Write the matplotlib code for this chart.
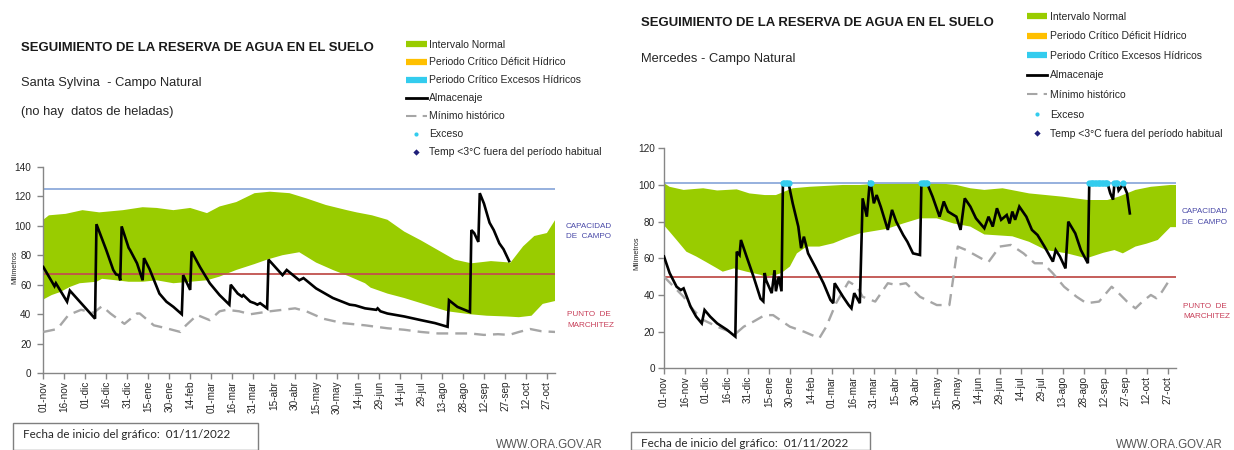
import matplotlib
matplotlib.use('Agg')
import matplotlib.pyplot as plt
from matplotlib import font_manager
from matplotlib.lines import Line2D

# ---------------- data ----------------
tick_days = list(range(0, 361, 15))
tick_labels = ['01-nov', '16-nov', '01-dic', '16-dic', '31-dic', '15-ene', '30-ene', '14-feb',
               '01-mar', '16-mar', '31-mar', '15-abr', '30-abr', '15-may', '30-may', '14-jun',
               '29-jun', '14-jul', '29-jul', '13-ago', '28-ago', '12-sep', '27-sep', '12-oct', '27-oct']

# Santa Sylvina
ss_cc = 125
ss_pmp = 67
ss_up_days = [0, 4, 16, 28, 40, 57, 71, 81, 93, 105, 117, 126, 138, 151, 162, 176, 188, 202, 217,
              224, 235, 246, 258, 270, 282, 294, 306, 320, 334, 343, 351, 360, 366]
ss_up_vals = [104, 107, 108, 110.5, 109, 110.5, 112.5, 112, 110.5, 112, 108.5, 113, 116, 122, 123,
              122, 118.5, 114, 110.5, 109, 107, 104, 96, 90, 83.5, 77, 74.5, 76, 75, 86, 93, 95, 104]
ss_lo_days = [0, 6, 12, 19, 26, 38, 42, 52, 61, 71, 81, 93, 105, 117, 126, 138, 151, 160, 171, 183,
              195, 207, 219, 230, 234, 246, 258, 270, 282, 289, 305, 317, 331, 340, 349, 357, 366]
ss_lo_vals = [50, 53, 55, 58.5, 61, 62, 64, 63, 62, 62, 63, 61, 62, 63, 65.5, 70, 74, 77, 80, 82,
              75, 70, 65.5, 61, 58, 54, 51, 47.5, 44, 42, 40, 39, 38.5, 38, 39, 47, 49]
ss_st_days = [0, 8, 9, 17, 19, 37, 38, 45, 50, 52, 54, 55, 56, 61, 62, 67, 71, 72, 76, 83, 88, 93,
              99, 100, 105, 106, 112, 119, 126, 133, 134, 139, 142, 143, 148, 151, 153, 155, 160,
              161, 171, 174, 183, 186, 195, 207, 219, 223, 230, 238, 239, 241, 246, 258, 270, 280,
              289, 290, 296, 305, 306, 308, 311, 312, 315, 319, 322, 326, 329, 333]
ss_st_vals = [72, 59, 61, 48.5, 56, 37, 101, 83.5, 70, 67, 66.5, 63, 99.5, 85, 83.5, 74.5, 63, 78,
              70.5, 54, 48.5, 45, 40, 66.5, 56.5, 82.5, 72, 61, 53, 46.5, 60, 54, 52, 53, 48.5,
              47.5, 46.5, 47.5, 44, 77, 66.5, 70, 63, 64.5, 57.5, 51, 46.5, 46, 44, 43, 44, 42,
              40.5, 38.5, 36, 34, 31.5, 49.5, 45, 41.5, 97, 95, 89, 122, 115, 102, 97, 88, 84, 76]
ss_min_days = [0, 10, 18, 27, 36, 42, 48, 58, 67, 69, 79, 88, 98, 102, 110, 119, 126, 131, 140,
               148, 162, 171, 180, 188, 200, 214, 230, 246, 258, 270, 282, 294, 305, 315, 325,
               333, 340, 348, 356, 366]
ss_min_vals = [28, 30, 39.5, 43, 41, 45.5, 40.5, 33.5, 40.5, 40.5, 32.5, 30.5, 28, 32.5, 39.5, 36,
               42, 43, 42, 40, 42, 43, 44, 42, 37, 34, 32.5, 30.5, 29.5, 28, 27, 27, 27, 26, 26.5,
               26, 28, 30, 28.5, 28]
ss_exc_days = []

# Mercedes
me_cc = 101
me_pmp = 50
me_up_days = [0, 4, 14, 28, 38, 52, 61, 72, 80, 92, 104, 116, 128, 140, 151, 171, 195, 209, 219,
              229, 242, 261, 285, 303, 317, 325, 337, 348, 362, 366]
me_up_vals = [101, 99, 97.3, 98.2, 97, 97.6, 95.4, 94.5, 94.5, 98.2, 99, 99.5, 100, 100, 100.6, 101,
              101, 100, 98.2, 97.3, 98.2, 95.4, 93.6, 91.8, 91.8, 93.6, 97.3, 99, 100, 100]
me_lo_days = [0, 4, 9, 16, 23, 30, 38, 42, 50, 59, 69, 72, 80, 84, 90, 95, 102, 111, 121, 130, 140,
              151, 159, 171, 183, 195, 207, 219, 229, 249, 261, 273, 288, 302, 314, 322, 328, 337,
              345, 353, 362, 366]
me_lo_vals = [78, 74.5, 70, 63.6, 61, 58, 54.5, 52.7, 54.5, 52.7, 51, 50, 51, 52, 55.5, 62.7, 66.4,
              66.4, 68.2, 71, 73.6, 75, 76, 79, 81.8, 81.8, 79, 77.3, 73, 72, 69, 64.5, 62.7, 60, 63,
              64.5, 62.7, 66.4, 68, 70, 77, 77]
me_st_days = [0, 4, 9, 12, 14, 19, 23, 27, 29, 33, 38, 45, 51, 52, 54, 55, 59, 64, 69, 71, 72, 73,
              77, 79, 80, 82, 84, 85, 89, 92, 96, 98, 100, 103, 108, 114, 119, 121, 122, 128, 132,
              134, 136, 140, 142, 145, 147, 148, 150, 152, 155, 160, 163, 166, 171, 174, 178, 183,
              184, 188, 192, 197, 200, 203, 209, 212, 215, 219, 223, 229, 232, 235, 238, 241, 245,
              247, 249, 251, 254, 259, 263, 267, 272, 278, 280, 283, 287, 289, 294, 298, 303, 304,
              317, 319, 321, 322, 324, 325, 327, 328, 331, 333]
me_st_vals = [61, 52, 44.5, 42.7, 43.6, 33.6, 28.2, 24.5, 31.8, 28.2, 24.5, 21, 17.3, 63.6, 61.8,
              70, 61, 50, 38, 36.5, 52, 48, 41, 53.5, 42, 50, 42, 101, 101, 90, 77.3, 65.5, 71.8,
              62.7, 55.5, 46.4, 37.3, 35.5, 46.4, 39, 34.5, 32.7, 41, 35.5, 92.7, 82.7, 100.9, 100,
              90, 94.5, 88, 75.5, 86.4, 80, 72.7, 69, 62.7, 61.8, 101, 101, 93.6, 82.7, 91, 85.5,
              82.7, 75.5, 92.7, 88.2, 81.8, 76.4, 82.7, 77.3, 87.3, 81, 83.6, 79, 85.5, 81, 88.2,
              82.7, 75.5, 72.7, 66.4, 58.2, 64.5, 61, 54.5, 80, 73.6, 64.5, 57.3, 101, 101, 95.5,
              92, 101, 101, 97, 99, 101, 95.5, 84.5]
me_min_days = [0, 7, 14, 21, 28, 38, 47, 52, 57, 64, 72, 78, 90, 100, 111, 116, 123, 132, 138, 142,
               151, 160, 166, 173, 183, 195, 204, 210, 216, 229, 232, 240, 248, 257, 265, 271, 278,
               286, 295, 302, 311, 320, 325, 331, 337, 342, 348, 352, 356, 362]
me_min_vals = [50, 44.5, 39, 31.8, 26.4, 22.7, 20, 19.4, 22.7, 25.5, 29, 29, 22.7, 20, 16.4, 22.7,
               35.5, 47.3, 44.5, 39, 36.4, 46.4, 45.5, 46.4, 39, 34.5, 34.5, 66.4, 64.5, 59, 58,
               66.4, 67.3, 62.7, 57.3, 57.3, 51.8, 44.5, 39, 35.5, 36.4, 44.5, 41, 36.4, 32.7, 36.4,
               40, 38.2, 41.8, 49]
me_exc_days = [85, 86, 87, 88, 89, 147, 148, 184, 185, 186, 187, 188, 304, 305, 306, 307, 308, 309,
               310, 311, 312, 313, 314, 315, 316, 317, 322, 323, 324, 328]

legend_labels = ['Intervalo Normal', 'Periodo Crítico Déficit Hídrico',
                 'Periodo Crítico Excesos Hídricos', 'Almacenaje', 'Mínimo histórico', 'Exceso',
                 'Temp <3°C fuera del período habitual']

# ---------------- style ----------------
names = {f.name for f in font_manager.fontManager.ttflist}
if 'Liberation Sans Narrow' in names:
    NARROW, K = 'Liberation Sans Narrow', 1.0
else:
    NARROW, K = 'Liberation Sans', 0.84

GREEN = '#99cc00'
CCCOL = '#8eaadb'
PMPCOL = '#c0504d'
MINCOL = '#a6a6a6'
EXCCOL = '#33ccee'
AXCOL = '#868686'

W, H = 1234, 450
fig = plt.figure(figsize=(W / 100, H / 100), dpi=100)


def P(x, y):
    return x / W, 1 - y / H


def draw_panel(rect, ymax, cc, pmp, up_d, up_v, lo_d, lo_v, st_d, st_v, mn_d, mn_v, exc_d,
               ypad):
    ax = fig.add_axes(rect)
    ax.fill(list(up_d) + list(lo_d[::-1]), list(up_v) + list(lo_v[::-1]),
            color=GREEN, lw=0, zorder=1)
    ax.axhline(cc, color=CCCOL, lw=1.3, zorder=2)
    ax.axhline(pmp, color=PMPCOL, lw=1.3, zorder=2)
    ax.plot(mn_d, mn_v, color=MINCOL, lw=1.7, ls=(0, (5, 3)), zorder=3)
    ax.plot(st_d, st_v, color='black', lw=1.9, zorder=4, solid_joinstyle='miter')
    if exc_d:
        ax.plot(exc_d, [cc] * len(exc_d), 'o', color=EXCCOL, ms=4.5, mew=0, zorder=5)
    ax.set_xlim(0, 366)
    ax.set_ylim(0, ymax)
    ax.set_yticks(range(0, ymax + 1, 20))
    ax.set_xticks(tick_days)
    ax.set_xticklabels(tick_labels, rotation=90, fontfamily=NARROW, fontsize=8.6 * K,
                       color='#262626')
    for lab in ax.get_yticklabels():
        lab.set_fontfamily(NARROW)
        lab.set_fontsize(8.6 * K)
        lab.set_color('#262626')
    for s in ('top', 'right'):
        ax.spines[s].set_visible(False)
    for s in ('left', 'bottom'):
        ax.spines[s].set_color(AXCOL)
        ax.spines[s].set_linewidth(1.0)
    ax.tick_params(axis='y', direction='out', length=4, width=1, color=AXCOL, pad=ypad)
    ax.tick_params(axis='x', direction='out', length=4, width=1, color=AXCOL, pad=1.5)
    ax.set_facecolor('none')
    return ax


ax1 = draw_panel([43.3 / W, 1 - 373.3 / H, 512 / W, 206.7 / H], 140, ss_cc, ss_pmp,
                 ss_up_days, ss_up_vals, ss_lo_days, ss_lo_vals, ss_st_days, ss_st_vals,
                 ss_min_days, ss_min_vals, ss_exc_days, 4.5)
ax2 = draw_panel([664 / W, 1 - 368.3 / H, 512 / W, 220 / H], 120, me_cc, me_pmp,
                 me_up_days, me_up_vals, me_lo_days, me_lo_vals, me_st_days, me_st_vals,
                 me_min_days, me_min_vals, me_exc_days, 2.5)

# ---------------- texts ----------------
def T(x, y, s, **kw):
    fig.text(*P(x, y), s, **kw)


T(21, 48.3, 'SEGUIMIENTO DE LA RESERVA DE AGUA EN EL SUELO', fontfamily=NARROW,
  fontweight='bold', fontsize=11.3 * K, va='center', color='#1a1a1a')
T(21, 83.3, 'Santa Sylvina  - Campo Natural', fontfamily=NARROW, fontsize=11 * K, va='center',
  color='#262626')
T(21, 112.3, '(no hay  datos de heladas)', fontfamily=NARROW, fontsize=11 * K, va='center',
  color='#262626')
T(641, 23.3, 'SEGUIMIENTO DE LA RESERVA DE AGUA EN EL SUELO', fontfamily=NARROW,
  fontweight='bold', fontsize=11.3 * K, va='center', color='#1a1a1a')
T(641, 59.3, 'Mercedes - Campo Natural', fontfamily=NARROW, fontsize=11 * K, va='center',
  color='#262626')

T(14.5, 267, 'Milímetros', fontfamily=NARROW, fontsize=6.2 * K, rotation=90, ha='center',
  va='center', color='#262626')
T(637, 253, 'Milímetros', fontfamily=NARROW, fontsize=6.2 * K, rotation=90, ha='center',
  va='center', color='#262626')

for (x, y1, y2, y3, y4) in [(566, 226.7, 236.7, 315, 325.7), (1182, 211.7, 222, 306.7, 316.7)]:
    T(x, y1, 'CAPACIDAD', fontfamily=NARROW, fontsize=7.0 * K, va='center', color='#4a4aa8')
    T(x, y2, 'DE  CAMPO', fontfamily=NARROW, fontsize=7.0 * K, va='center', color='#4a4aa8')
    T(x + 1, y3, 'PUNTO  DE', fontfamily=NARROW, fontsize=7.0 * K, va='center', color='#c8405a')
    T(x + 1, y4, 'MARCHITEZ', fontfamily=NARROW, fontsize=7.0 * K, va='center', color='#c8405a')

for (x0, x1, y0, ty) in [(13.4, 257.5, 422.7, 434), (631, 869.5, 431.7, 443.3)]:
    fig.patches.append(plt.Rectangle(P(x0, 449.5), (x1 - x0) / W, (449.5 - y0) / H,
                                     transform=fig.transFigure, fill=False,
                                     edgecolor='#7f7f7f', lw=1.0))
    T(x0 + 10, ty, 'Fecha de inicio del gráfico:  01/11/2022', fontfamily='Lato', fontsize=8.4,
      va='center', color='#262626')

T(496, 445, 'WWW.ORA.GOV.AR', fontfamily='Liberation Sans', fontsize=8.3, va='center',
  color='#555555')
T(1116, 445, 'WWW.ORA.GOV.AR', fontfamily='Liberation Sans', fontsize=8.3, va='center',
  color='#555555')

# ---------------- legends ----------------
handles = [
    Line2D([], [], color=GREEN, lw=4.5, solid_capstyle='butt'),
    Line2D([], [], color='#ffc000', lw=4.5, solid_capstyle='butt'),
    Line2D([], [], color=EXCCOL, lw=4.5, solid_capstyle='butt'),
    Line2D([], [], color='black', lw=2),
    Line2D([], [], color=MINCOL, lw=1.5, ls=(0, (5, 3))),
    Line2D([], [], color=EXCCOL, marker='o', ls='none', ms=3, mew=0),
    Line2D([], [], color='#1f1f7a', marker='D', ls='none', ms=3.2, mew=0),
]
for (x, ytop, ls) in [(406, 39.5, 0.77), (1026.5, 11.8, 0.92)]:
    fig.legend(handles, legend_labels, loc='upper left', bbox_to_anchor=P(x, ytop),
               frameon=False, borderpad=0, borderaxespad=0, handlelength=2.0,
               handletextpad=0.25, labelspacing=ls,
               prop={'family': NARROW, 'size': 8.9 * K}, labelcolor='#262626')

fig.savefig('out.png', dpi=100)
